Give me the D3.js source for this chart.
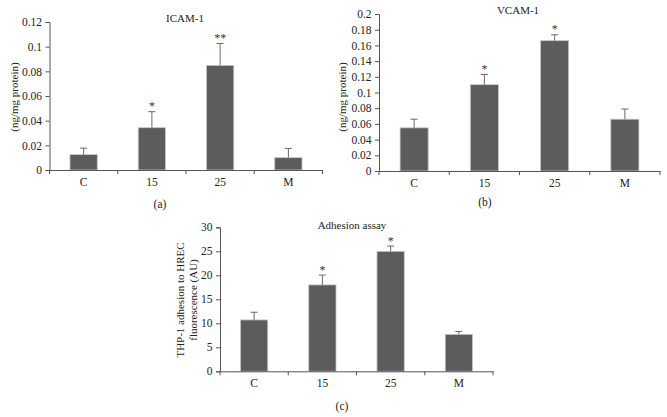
<!DOCTYPE html>
<html><head><meta charset="utf-8">
<script src="https://cdn.jsdelivr.net/npm/d3@7"></script>
<style>body{margin:0;background:#fff}svg{display:block}</style>
</head><body><svg id="c" width="667" height="417"></svg>
<script>
const categories = ["C", "15", "25", "M"];
const icamValues = [0.0125, 0.0343, 0.0848, 0.0100];
const icamErrors = [0.0052, 0.0130, 0.0178, 0.0075];
const icamStars  = ["", "*", "**", ""];
const icamTicks  = [0, 0.02, 0.04, 0.06, 0.08, 0.1, 0.12];
const vcamValues = [0.055, 0.110, 0.166, 0.066];
const vcamErrors = [0.011, 0.013, 0.0075, 0.013];
const vcamStars  = ["", "*", "*", ""];
const vcamTicks  = [0, 0.02, 0.04, 0.06, 0.08, 0.1, 0.12, 0.14, 0.16, 0.18, 0.2];
const adhValues  = [10.7, 18.0, 25.0, 7.7];
const adhErrors  = [1.6, 2.05, 1.1, 0.6];
const adhStars   = ["", "*", "*", ""];
const adhTicks   = [0, 5, 10, 15, 20, 25, 30];

const FONT = "'Liberation Serif','Times New Roman',serif";
const svg = d3.select("#c");

function panel(o) {
  const g = svg.append("g");
  const x = d3.scaleBand().domain(categories).range([o.x0, o.x1]).paddingInner(0.6).paddingOuter(0.3);
  const y = d3.scaleLinear().domain([0, o.max]).range([o.y0, o.y1]);
  const data = categories.map((c, i) => ({c, v: o.values[i], e: o.errors[i], s: o.stars[i]}));
  g.selectAll("rect.bar").data(data).join("rect")
    .attr("x", d => x(d.c)).attr("width", x.bandwidth())
    .attr("y", d => y(d.v)).attr("height", d => y(0) - y(d.v))
    .attr("fill", "#5c5c5c").attr("stroke", "#c8c8c8").attr("stroke-width", 0.8);
  const cx = d => x(d.c) + x.bandwidth() / 2;
  g.selectAll("line.err").data(data).join("line")
    .attr("x1", cx).attr("x2", cx).attr("y1", d => y(d.v)).attr("y2", d => y(d.v + d.e))
    .attr("stroke", "#6a6a6a").attr("stroke-width", 1);
  g.selectAll("line.cap").data(data).join("line")
    .attr("x1", d => cx(d) - 3.5).attr("x2", d => cx(d) + 3.5)
    .attr("y1", d => y(d.v + d.e)).attr("y2", d => y(d.v + d.e))
    .attr("stroke", "#6a6a6a").attr("stroke-width", 1);
  g.selectAll("text.star").data(data).join("text")
    .attr("x", cx).attr("y", d => y(d.v + d.e) - 1.5)
    .attr("text-anchor", "middle").attr("font-size", 12).attr("font-family", FONT).attr("fill", "#333")
    .text(d => d.s);
  const ya = g.append("g").attr("transform", `translate(${o.x0},0)`)
    .call(d3.axisLeft(y).tickValues(o.ticks).tickSize(4).tickPadding(3.5).tickFormat(d => String(d)));
  ya.select(".domain").attr("stroke", "#555");
  ya.selectAll(".tick line").attr("stroke", "#555");
  ya.selectAll("text").attr("font-size", 11.5).attr("font-family", FONT).attr("fill", "#222");
  const xa = g.append("g").attr("transform", `translate(0,${o.y0})`)
    .call(d3.axisBottom(x).tickSize(0).tickPadding(8));
  xa.select(".domain").attr("stroke", "#555");
  xa.selectAll("text").attr("font-size", 11.5).attr("font-family", FONT).attr("fill", "#222");
  const bounds = [0, 1, 2, 3, 4].map(i => o.x0 + i * x.step());
  xa.selectAll("line.sep").data(bounds).join("line")
    .attr("x1", d => d).attr("x2", d => d).attr("y1", 0).attr("y2", 4).attr("stroke", "#555");
  g.append("text").attr("x", o.tx).attr("y", o.ty).attr("text-anchor", "middle")
    .attr("font-size", 11).attr("font-family", FONT).attr("fill", "#222").text(o.title);
  const yl = g.append("text").attr("transform", `translate(${o.lx},${o.ly}) rotate(-90)`)
    .attr("text-anchor", "middle").attr("font-size", 11).attr("font-family", FONT).attr("fill", "#222");
  o.ylabel.forEach((t, i) => yl.append("tspan").attr("x", 0).attr("dy", i === 0 ? 0 : 13).text(t));
  g.append("text").attr("x", o.cx).attr("y", o.cy).attr("text-anchor", "middle")
    .attr("font-size", 11.5).attr("font-family", FONT).attr("fill", "#222").text(o.caption);
}

panel({x0: 49.5, x1: 322.5, y0: 170, y1: 22, max: 0.12, values: icamValues, errors: icamErrors, stars: icamStars,
  ticks: icamTicks, title: "ICAM-1", tx: 185, ty: 22, ylabel: ["(ng/mg protein)"], lx: 18, ly: 97, caption: "(a)", cx: 160, cy: 208});
panel({x0: 379, x1: 660, y0: 171, y1: 14, max: 0.2, values: vcamValues, errors: vcamErrors, stars: vcamStars,
  ticks: vcamTicks, title: "VCAM-1", tx: 518, ty: 14, ylabel: ["(ng/mg protein)"], lx: 346, ly: 97, caption: "(b)", cx: 485, cy: 206});
panel({x0: 220, x1: 493, y0: 371.3, y1: 227.3, max: 30, values: adhValues, errors: adhErrors, stars: adhStars,
  ticks: adhTicks, title: "Adhesion assay", tx: 352, ty: 229, ylabel: ["THP-1 adhesion to HREC", "fluorescence (AU)"], lx: 184, ly: 300, caption: "(c)", cx: 342, cy: 410});
</script></body></html>
